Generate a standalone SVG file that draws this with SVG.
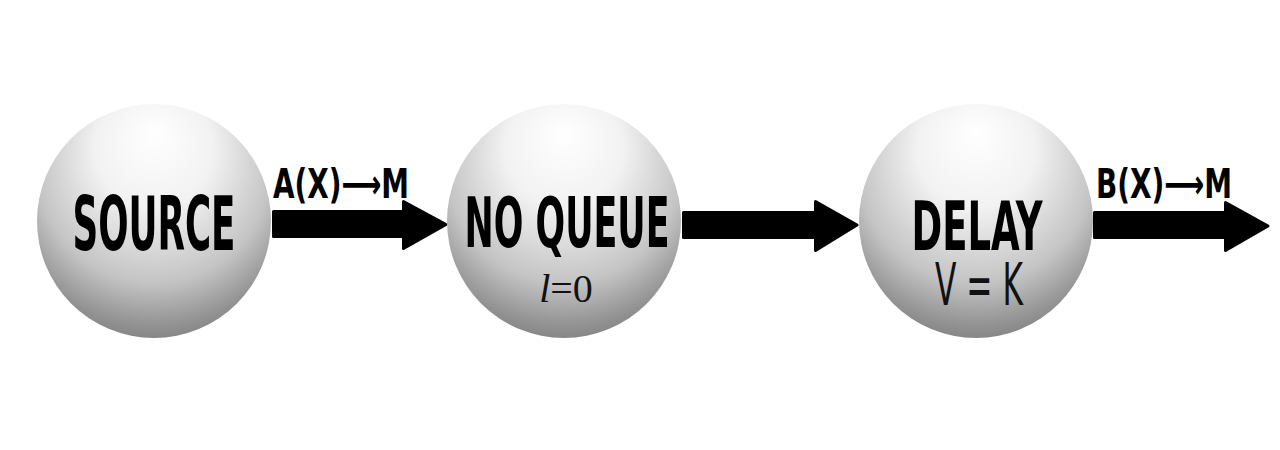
<svg xmlns="http://www.w3.org/2000/svg" width="1280" height="450" viewBox="0 0 1280 450">
<defs>
<radialGradient id="sph" cx="0.5" cy="0.32" r="0.72" fx="0.5" fy="0.12">
<stop offset="0" stop-color="#ffffff"/>
<stop offset="0.35" stop-color="#f2f2f2"/>
<stop offset="0.7" stop-color="#c4c4c4"/>
<stop offset="0.9" stop-color="#929292"/>
<stop offset="1" stop-color="#7e7e7e"/>
</radialGradient>
<style>
.ball{fill:url(#sph)}
.big{font-family:"Liberation Sans Narrow","DejaVu Sans Condensed","Liberation Sans",sans-serif;font-weight:bold;fill:#000;text-anchor:middle}
.thin{font-family:"Liberation Sans Narrow","DejaVu Sans Condensed","Liberation Sans",sans-serif;font-weight:normal;fill:#111;text-anchor:middle}
.lbl{font-family:"DejaVu Sans Condensed","Liberation Sans Narrow","DejaVu Sans",sans-serif;font-weight:bold;fill:#000}
.math{font-family:"Liberation Serif",serif;fill:#111;text-anchor:middle}
.conn{fill:#000;stroke:#000;stroke-width:3;stroke-linejoin:round}
</style>
</defs>
<rect width="1280" height="450" fill="#fff"/>
<g id="connectors">
<path class="conn" d="M273.5,211.5 H403.5 V201.5 L446,224.5 L403.5,248.5 V236.5 H273.5 Z"/>
<path class="conn" d="M683.5,212.5 H815.5 V201.5 L857,225 L815.5,250.5 V237.5 H683.5 Z"/>
<path class="conn" d="M1094.5,212.5 H1225.5 V202.5 L1268,226 L1225.5,250.5 V237.5 H1094.5 Z"/>
<text class="lbl" x="273" y="198" font-size="40" textLength="136" lengthAdjust="spacingAndGlyphs">A(X)⟶M</text>
<text class="lbl" x="1096" y="198" font-size="40" textLength="136" lengthAdjust="spacingAndGlyphs">B(X)⟶M</text>
</g>
<g id="source">
<circle class="ball" cx="154" cy="221" r="117"/>
<text class="big" x="154" y="250" font-size="74" textLength="163" lengthAdjust="spacingAndGlyphs">SOURCE</text>
</g>
<g id="noqueue">
<circle class="ball" cx="564" cy="221" r="117"/>
<text class="big" x="567" y="247" font-size="70" textLength="205" lengthAdjust="spacingAndGlyphs">NO QUEUE</text>
<text class="math" x="566" y="302" font-size="40"><tspan font-style="italic">l</tspan>=0</text>
</g>
<g id="delay">
<circle class="ball" cx="976" cy="221" r="117"/>
<text class="big" x="977" y="250" font-size="68" textLength="131" lengthAdjust="spacingAndGlyphs">DELAY</text>
<text class="thin" x="979" y="305" font-size="58" textLength="88" lengthAdjust="spacingAndGlyphs">V = K</text>
</g>
</svg>
